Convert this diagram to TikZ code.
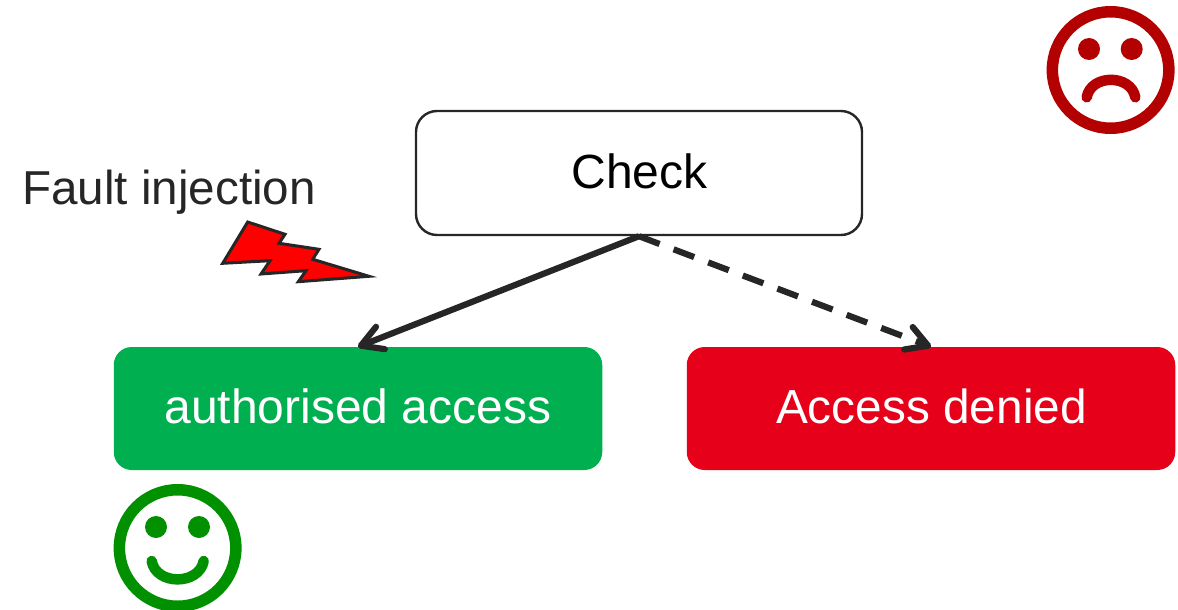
\documentclass[tikz,border=0pt]{standalone}
\usepackage{fontspec}
\setmainfont{Liberation Sans}
\usetikzlibrary{arrows.meta}
\definecolor{ink}{HTML}{262626}
\definecolor{okgreen}{HTML}{00B050}
\definecolor{denyred}{HTML}{E60019}
\definecolor{happy}{HTML}{009000}
\definecolor{sad}{HTML}{B30000}
\tikzset{
  x=1pt,y=-1pt,
  checkbox/.style={draw=ink,line width=2.4pt,fill=white,rounded corners=21pt,minimum width=446pt,minimum height=124pt,inner sep=0},
  resultbox/.style={rounded corners=18pt,minimum width=488.5pt,minimum height=123pt,inner sep=0},
  label/.style={inner sep=0,font=\fontsize{48}{50}\selectfont},
  link/.style={draw=ink,line width=6.2pt,-{Straight Barb[length=21pt,width=24pt,line width=6.2pt,round]}},
  face/.style={draw=#1,line width=11.5pt,fill=white,circle,minimum size=116.5pt,inner sep=0},
  eye/.style={fill=#1,circle,minimum size=22pt,inner sep=0},
  mouth/.style={draw=#1,line width=10.5pt,line cap=round},
}
\begin{document}
\begin{tikzpicture}
\useasboundingbox (0,0) rectangle (1178,610);
\node[checkbox] (check) at (639,173) {};
\node[label,text=black] (checktext) at (639.5,171) {Check};
\node[resultbox,fill=okgreen] (ok) at (358,408.5) {};
\node[label,text=white] (oktext) at (358,406.5) {authorised access};
\node[resultbox,fill=denyred] (deny) at (931,408.5) {};
\node[label,text=white,font=\fontsize{47.8}{50}\selectfont] (denytext) at (931.5,406.5) {Access denied};
\draw[link] (check.south) -- (ok.north);
\draw[link,dash pattern=on 22pt off 15pt] (check.south) -- (deny.north);
\node[label,text=ink,font=\fontsize{47.6}{50}\selectfont] (fault) at (169,192) {Fault injection};
\draw[draw=ink,fill=red,line width=3pt,line join=miter] (247.7,222) -- (285,234.3) -- (279,243.3) -- (319,249.3) -- (312.7,259.3) -- (369,276.3) -- (298.3,281.7) -- (306,270.7) -- (261,274) -- (270,260.7) -- (222.7,263.3) -- cycle;
% sad face
\node[face=sad] (sadface) at (1110.6,70) {};
\node[eye=sad] (sadl) at (1089,49) {};
\node[eye=sad] (sadr) at (1131.7,49) {};
\draw[mouth=sad] (1086.7,97.3) .. controls (1091,74) and (1131,74) .. (1135.3,97.3);
% happy face
\node[face=happy] (happyface) at (177.6,548) {};
\node[eye=happy] (happyl) at (156,527) {};
\node[eye=happy] (happyr) at (199,527) {};
\draw[mouth=happy] (151.7,561) .. controls (156,585.5) and (199,585.5) .. (203.7,561);
\end{tikzpicture}
\end{document}
